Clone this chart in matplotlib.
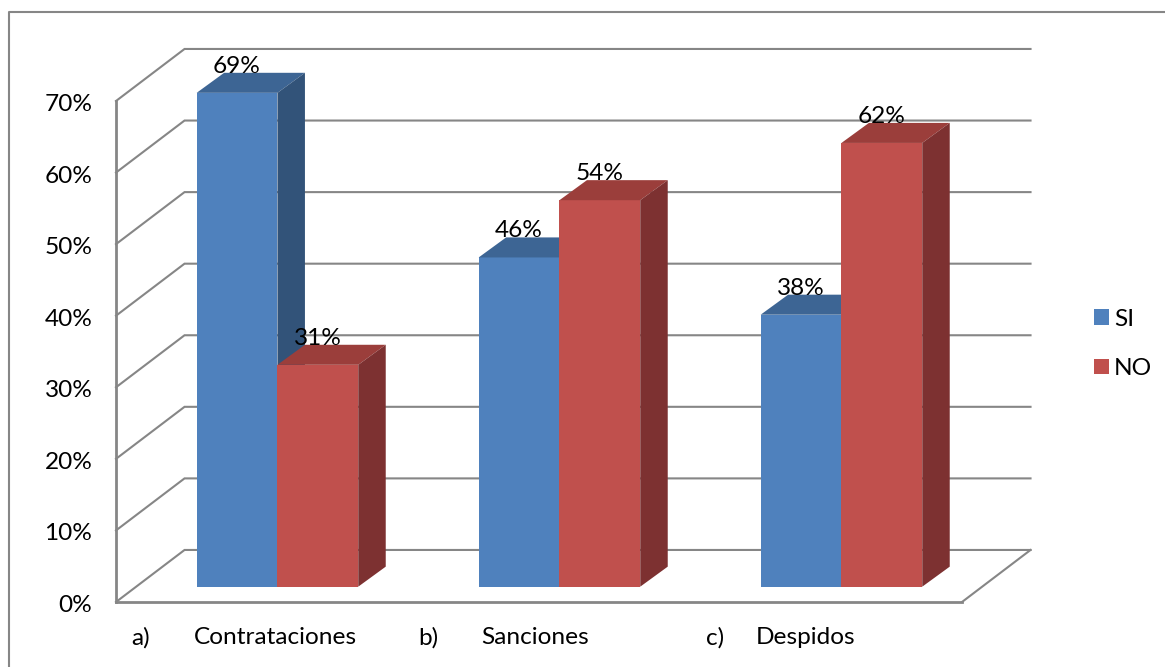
import matplotlib.pyplot as plt
from matplotlib.lines import Line2D
from matplotlib.patches import Patch, Polygon
from matplotlib.transforms import ScaledTranslation

plt.rcParams['font.family'] = ['Lato', 'DejaVu Sans']

letters = ['a)', 'b)', 'c)']
categories = ['Contrataciones', 'Sanciones', 'Despidos']
si_values = [69, 46, 38]
no_values = [31, 54, 62]
y_ticks = [0, 10, 20, 30, 40, 50, 60, 70]

GREY = '#868686'
BLUE = ('#4F81BD', '#3D6594', '#325379')
RED = ('#C0504D', '#9B3E3B', '#7D3131')
FONT = 17.6

W, H = 1165, 667
fig = plt.figure(figsize=(W / 100, H / 100), dpi=100)
ax = fig.add_axes([116 / W, (H - 602) / H, 846 / W, 501 / H])
ax.set_xlim(0, 3)
ax.set_ylim(0, 70)
ax.patch.set_visible(False)

# wall depth and bar depth, in axis units
wall_dx, wall_dy = 0.243, 7.27
bar_dx, bar_dy = 0.0975, 2.8
bar_base = 2.14
bar_w = 0.2865
first_bar = 0.286


def bar3d(x, value, colors):
    top = value + bar_base
    ax.bar(x, value, bar_w, bottom=bar_base, align='edge', color=colors[0],
           linewidth=0, clip_on=False, zorder=3)
    ax.add_patch(Polygon([(x, top), (x + bar_w, top),
                          (x + bar_w + bar_dx, top + bar_dy), (x + bar_dx, top + bar_dy)],
                         facecolor=colors[1], linewidth=0, clip_on=False, zorder=3))
    ax.add_patch(Polygon([(x + bar_w, bar_base), (x + bar_w + bar_dx, bar_base + bar_dy),
                          (x + bar_w + bar_dx, top + bar_dy), (x + bar_w, top)],
                         facecolor=colors[2], linewidth=0, clip_on=False, zorder=3))
    ax.text(x + bar_w / 2, top + 3.7, f'{value}%', ha='center', va='center',
            fontsize=FONT, color='black', zorder=5)


# back wall gridlines and the diagonals running down the side wall
for v in y_ticks:
    ax.plot([0, wall_dx, 3 + wall_dx], [v, v + wall_dy, v + wall_dy], color=GREY, lw=1.5,
            clip_on=False, zorder=1, solid_joinstyle='miter')
ax.plot([3, 3 + wall_dx], [0, wall_dy], color=GREY, lw=1.5, clip_on=False, zorder=1)

for i in range(len(categories)):
    x = i + first_bar
    bar3d(x, si_values[i], BLUE)
    bar3d(x + bar_w, no_values[i], RED)

for side in ['top', 'right']:
    ax.spines[side].set_visible(False)
for side in ['left', 'bottom']:
    ax.spines[side].set_color(GREY)
    ax.spines[side].set_linewidth(2)
    ax.spines[side].set_zorder(2)

ax.set_xticks([])
ax.set_yticks(y_ticks)
ax.set_yticklabels([f'{v}%' for v in y_ticks], fontsize=FONT)
ax.tick_params(axis='y', length=0, pad=17)
# tick labels sit a little under their gridline
shift = ScaledTranslation(0, -1.5 / 100, fig.dpi_scale_trans)
for label in ax.get_yticklabels():
    label.set_transform(label.get_transform() + shift)

# category labels below the floor
letter_x = [131, 418, 706]
name_x = [194, 481, 756]
for i in range(len(categories)):
    fig.text(letter_x[i] / W, (H - 638) / H, letters[i], fontsize=FONT, va='center')
    fig.text(name_x[i] / W, (H - 638) / H, categories[i], fontsize=FONT, va='center')

handles = [Patch(facecolor=BLUE[0], label='SI'), Patch(facecolor=RED[0], label='NO')]
fig.legend(handles=handles, loc='center left', bbox_to_anchor=(1094 / W, (H - 344) / H),
           frameon=False, fontsize=FONT, handlelength=0.62, handleheight=0.62,
           handletextpad=0.2, labelspacing=1.15, borderpad=0, borderaxespad=0)

# outer frame, only the top and left edges show
fig.add_artist(Line2D([9 / W, 9 / W, 1], [0, (H - 12) / H, (H - 12) / H], color=GREY, lw=1.5))

fig.savefig('out.png', dpi=100)
